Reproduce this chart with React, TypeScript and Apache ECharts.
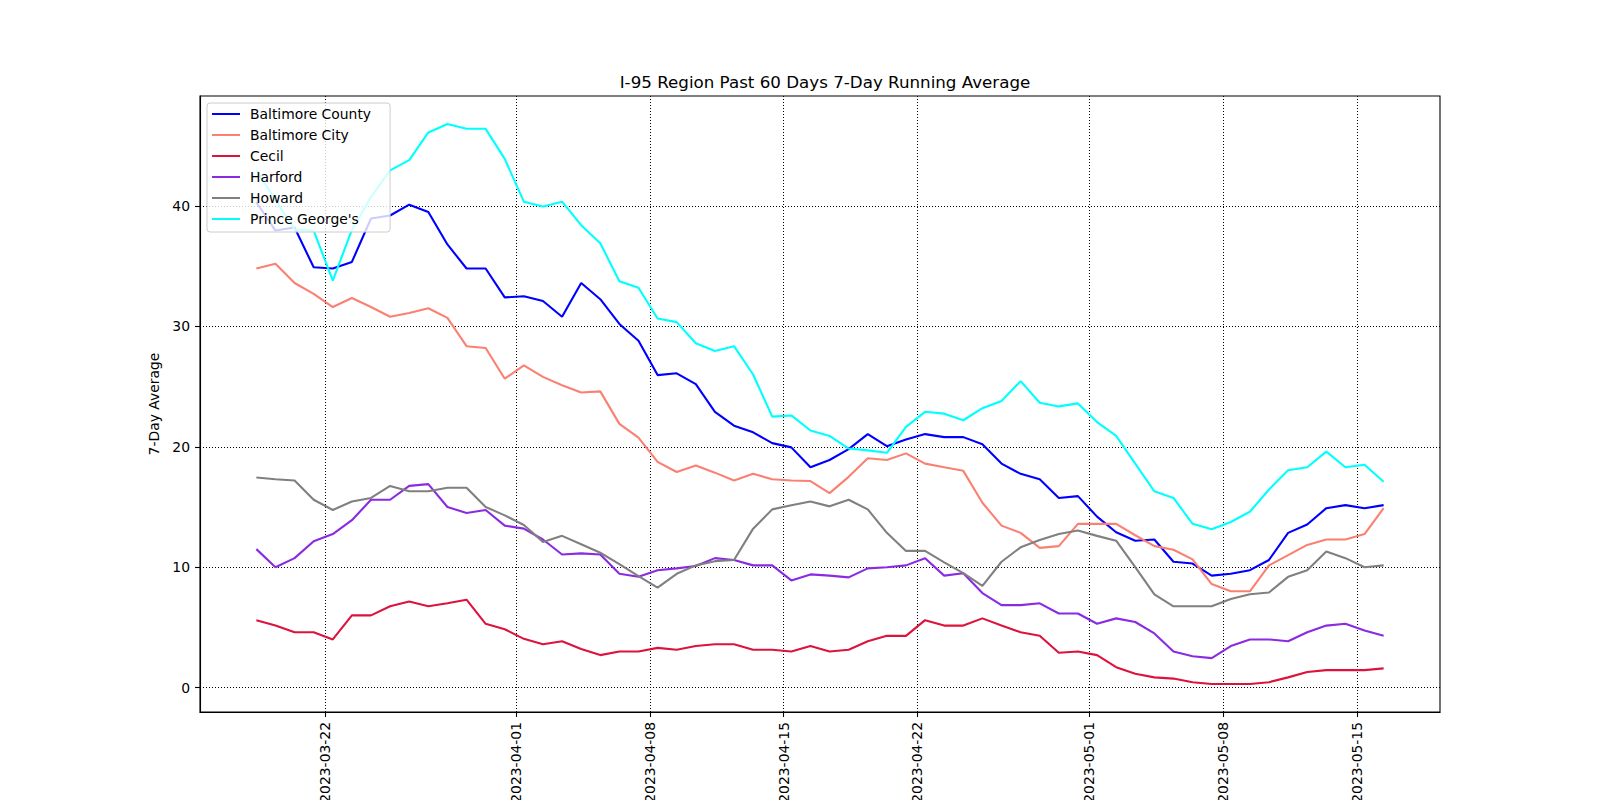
import React, { useEffect, useRef } from "react";
import * as echarts from "echarts";

const dates: string[] = [
  "2023-03-18", "2023-03-19", "2023-03-20", "2023-03-21", "2023-03-22", "2023-03-23",
  "2023-03-24", "2023-03-25", "2023-03-26", "2023-03-27", "2023-03-28", "2023-03-29",
  "2023-03-30", "2023-03-31", "2023-04-01", "2023-04-02", "2023-04-03", "2023-04-04",
  "2023-04-05", "2023-04-06", "2023-04-07", "2023-04-08", "2023-04-09", "2023-04-10",
  "2023-04-11", "2023-04-12", "2023-04-13", "2023-04-14", "2023-04-15", "2023-04-16",
  "2023-04-17", "2023-04-18", "2023-04-19", "2023-04-20", "2023-04-21", "2023-04-22",
  "2023-04-23", "2023-04-24", "2023-04-25", "2023-04-26", "2023-04-27", "2023-04-28",
  "2023-04-29", "2023-04-30", "2023-05-01", "2023-05-02", "2023-05-03", "2023-05-04",
  "2023-05-05", "2023-05-06", "2023-05-07", "2023-05-08", "2023-05-09", "2023-05-10",
  "2023-05-11", "2023-05-12", "2023-05-13", "2023-05-14", "2023-05-15", "2023-05-16",
];

const baltimoreCounty: number[] = [
  40.3, 37.95, 38.2, 34.9, 34.8, 35.35, 38.95, 39.2, 40.1, 39.5,
  36.8, 34.8, 34.8, 32.4, 32.5, 32.1, 30.8, 33.6, 32.25, 30.2,
  28.8, 25.95, 26.1, 25.2, 22.9, 21.75, 21.2, 20.3, 19.95, 18.3,
  18.9, 19.8, 21.05, 20.05, 20.6, 21.05, 20.8, 20.8, 20.2, 18.6,
  17.75, 17.3, 15.75, 15.9, 14.2, 12.9, 12.2, 12.3, 10.45, 10.3,
  9.3, 9.45, 9.75, 10.6, 12.85, 13.55, 14.9, 15.15, 14.9, 15.15,
];

const baltimoreCity: number[] = [
  34.8, 35.2, 33.6, 32.7, 31.6, 32.35, 31.6, 30.8, 31.1, 31.5,
  30.7, 28.35, 28.2, 25.65, 26.75, 25.8, 25.1, 24.5, 24.6, 21.9,
  20.75, 18.75, 17.9, 18.45, 17.85, 17.2, 17.75, 17.3, 17.2, 17.15,
  16.15, 17.5, 19.05, 18.9, 19.45, 18.6, 18.3, 18.0, 15.35, 13.45,
  12.85, 11.6, 11.75, 13.6, 13.6, 13.6, 12.65, 11.75, 11.45, 10.65,
  8.6, 8.0, 8.0, 10.15, 11.0, 11.85, 12.3, 12.3, 12.75, 14.9,
];

const cecil: number[] = [
  5.6, 5.15, 4.6, 4.6, 4.0, 6.0, 6.0, 6.75, 7.15, 6.75,
  7.0, 7.3, 5.3, 4.85, 4.05, 3.6, 3.85, 3.2, 2.7, 3.0,
  3.0, 3.3, 3.15, 3.45, 3.6, 3.6, 3.15, 3.15, 3.0, 3.45,
  3.0, 3.15, 3.85, 4.3, 4.3, 5.6, 5.15, 5.15, 5.75, 5.15,
  4.6, 4.3, 2.9, 3.0, 2.7, 1.7, 1.15, 0.85, 0.75, 0.45,
  0.3, 0.3, 0.3, 0.45, 0.85, 1.3, 1.45, 1.45, 1.45, 1.6,
];

const harford: number[] = [
  11.5, 10.0, 10.75, 12.15, 12.75, 13.9, 15.6, 15.6, 16.75, 16.9,
  15.0, 14.5, 14.75, 13.45, 13.2, 12.3, 11.05, 11.15, 11.05, 9.45,
  9.2, 9.75, 9.9, 10.1, 10.75, 10.6, 10.15, 10.15, 8.9, 9.4,
  9.3, 9.15, 9.9, 10.0, 10.15, 10.75, 9.3, 9.5, 7.85, 6.85,
  6.85, 7.0, 6.15, 6.15, 5.3, 5.75, 5.45, 4.5, 3.0, 2.6,
  2.45, 3.45, 4.0, 4.0, 3.85, 4.6, 5.15, 5.3, 4.75, 4.3,
];

const howard: number[] = [
  17.45, 17.3, 17.2, 15.6, 14.75, 15.45, 15.75, 16.75, 16.3, 16.3,
  16.6, 16.6, 15.0, 14.3, 13.5, 12.1, 12.6, 11.9, 11.2, 10.25,
  9.25, 8.3, 9.45, 10.15, 10.5, 10.6, 13.2, 14.8, 15.15, 15.45,
  15.05, 15.6, 14.8, 12.85, 11.35, 11.35, 10.4, 9.5, 8.45, 10.45,
  11.65, 12.25, 12.75, 13.05, 12.6, 12.2, 10.0, 7.75, 6.75, 6.75,
  6.75, 7.35, 7.75, 7.9, 9.2, 9.75, 11.3, 10.75, 10.0, 10.15,
];

const princeGeorges: number[] = [
  42.95, 40.5, 38.05, 37.95, 33.8, 38.0, 40.75, 42.95, 43.8, 46.1,
  46.8, 46.4, 46.4, 43.9, 40.35, 39.95, 40.35, 38.4, 36.9, 33.75,
  33.2, 30.65, 30.35, 28.6, 27.95, 28.35, 26.0, 22.5, 22.6, 21.35,
  20.9, 19.85, 19.7, 19.5, 21.65, 22.9, 22.75, 22.2, 23.2, 23.8,
  25.45, 23.65, 23.35, 23.6, 22.05, 20.9, 18.6, 16.3, 15.75, 13.6,
  13.15, 13.75, 14.6, 16.45, 18.05, 18.3, 19.6, 18.3, 18.5, 17.1,
];

const seriesNames: string[] = [
  "Baltimore County", "Baltimore City", "Cecil", "Harford", "Howard", "Prince George's",
];
const seriesColors: string[] = ["#0000ff", "#fa8072", "#dc143c", "#8a2be2", "#808080", "#00ffff"];
const seriesValues: number[][] = [baltimoreCounty, baltimoreCity, cecil, harford, howard, princeGeorges];

const xTickDates: string[] = [
  "2023-03-22", "2023-04-01", "2023-04-08", "2023-04-15",
  "2023-04-22", "2023-05-01", "2023-05-08", "2023-05-15",
];
const yTicks: number[] = [0, 10, 20, 30, 40];

const TITLE = "I-95 Region Past 60 Days 7-Day Running Average";
const Y_NAME = "7-Day Average";

const DAY_MS = 86400000;
const ORIGIN = Date.UTC(2023, 2, 18);
const TIME_OF_DAY = 0.4; // readings stamped in the morning

function dayNum(s: string): number {
  const [y, m, d] = s.split("-").map(Number);
  return (Date.UTC(y, m - 1, d) - ORIGIN) / DAY_MS;
}
function dayLabel(v: number): string {
  return new Date(ORIGIN + Math.round(v) * DAY_MS).toISOString().slice(0, 10);
}

const FONT = "DejaVu Sans";

export default function App() {
  const ref = useRef<HTMLDivElement>(null);
  useEffect(() => {
    if (!ref.current) return;
    const chart = echarts.init(ref.current, undefined, { renderer: "svg" });

    const xs = dates.map((d) => dayNum(d) + TIME_OF_DAY);
    const xMin0 = Math.min(...xs);
    const xMax0 = Math.max(...xs);
    const xPad = (xMax0 - xMin0) * 0.05;
    const allVals = seriesValues.flat();
    const yMin0 = Math.min(...allVals);
    const yMax0 = Math.max(...allVals);
    const yPad = (yMax0 - yMin0) * 0.05;

    const gridLine = { show: true, lineStyle: { color: "#000", width: 1, type: [1, 2] as any } };

    chart.setOption({
      animation: false,
      backgroundColor: "#ffffff",
      title: {
        text: TITLE,
        left: 820,
        top: 68,
        textAlign: "center",
        textStyle: { fontFamily: FONT, fontSize: 16.7, fontWeight: "normal", color: "#000" },
      },
      legend: {
        orient: "vertical",
        left: 207,
        top: 103,
        z: 10,
        icon: "rect",
        itemWidth: 28,
        itemHeight: 2,
        itemGap: 7,
        padding: [4, 19, 6, 5],
        backgroundColor: "rgba(255,255,255,0.8)",
        borderColor: "#cccccc",
        borderWidth: 1,
        borderRadius: 3,
        textStyle: { fontFamily: FONT, fontSize: 13.9, color: "#000", padding: [0, 0, 0, 5] },
        data: seriesNames,
      },
      grid: {
        left: 200,
        right: 160,
        top: 96,
        bottom: 88,
        show: true,
        borderColor: "#000",
        borderWidth: 1.1,
        backgroundColor: "transparent",
        containLabel: false,
        outerBoundsMode: "none",
      },
      xAxis: {
        type: "value",
        min: xMin0 - xPad,
        max: xMax0 + xPad,
        axisLine: { show: true, onZero: false, lineStyle: { color: "#000", width: 1.1 } },
        axisTick: { show: true, length: 5, inside: false, lineStyle: { color: "#000", width: 1.1 }, customValues: xTickDates.map(dayNum) },
        axisLabel: {
          customValues: xTickDates.map(dayNum),
          rotate: 90,
          margin: 10,
          fontFamily: FONT,
          fontSize: 13.9,
          color: "#000",
          formatter: (v: number) => dayLabel(v),
        },
        splitLine: gridLine,
      },
      yAxis: {
        type: "value",
        min: yMin0 - yPad,
        max: yMax0 + yPad,
        name: Y_NAME,
        nameLocation: "middle",
        nameRotate: 90,
        nameGap: 36,
        nameTextStyle: { fontFamily: FONT, fontSize: 13.9, color: "#000" },
        axisLine: { show: true, onZero: false, lineStyle: { color: "#000", width: 1.1 } },
        axisTick: { show: true, length: 5, inside: false, lineStyle: { color: "#000", width: 1.1 }, customValues: yTicks },
        axisLabel: {
          customValues: yTicks,
          margin: 10,
          fontFamily: FONT,
          fontSize: 13.9,
          color: "#000",
          formatter: (v: number) => String(Math.round(v)),
        },
        splitLine: gridLine,
      },
      series: seriesNames.map((name, k) => ({
        name,
        type: "line",
        showSymbol: false,
        symbol: "none",
        color: seriesColors[k],
        lineStyle: { color: seriesColors[k], width: 2.1 },
        data: xs.map((x, i) => [x, seriesValues[k][i]]),
      })),
    });
    return () => chart.dispose();
  }, []);

  return (
    <div
      ref={ref}
      style={{ position: "fixed", left: 0, top: 0, width: 1600, height: 800, background: "#fff" }}
    />
  );
}
